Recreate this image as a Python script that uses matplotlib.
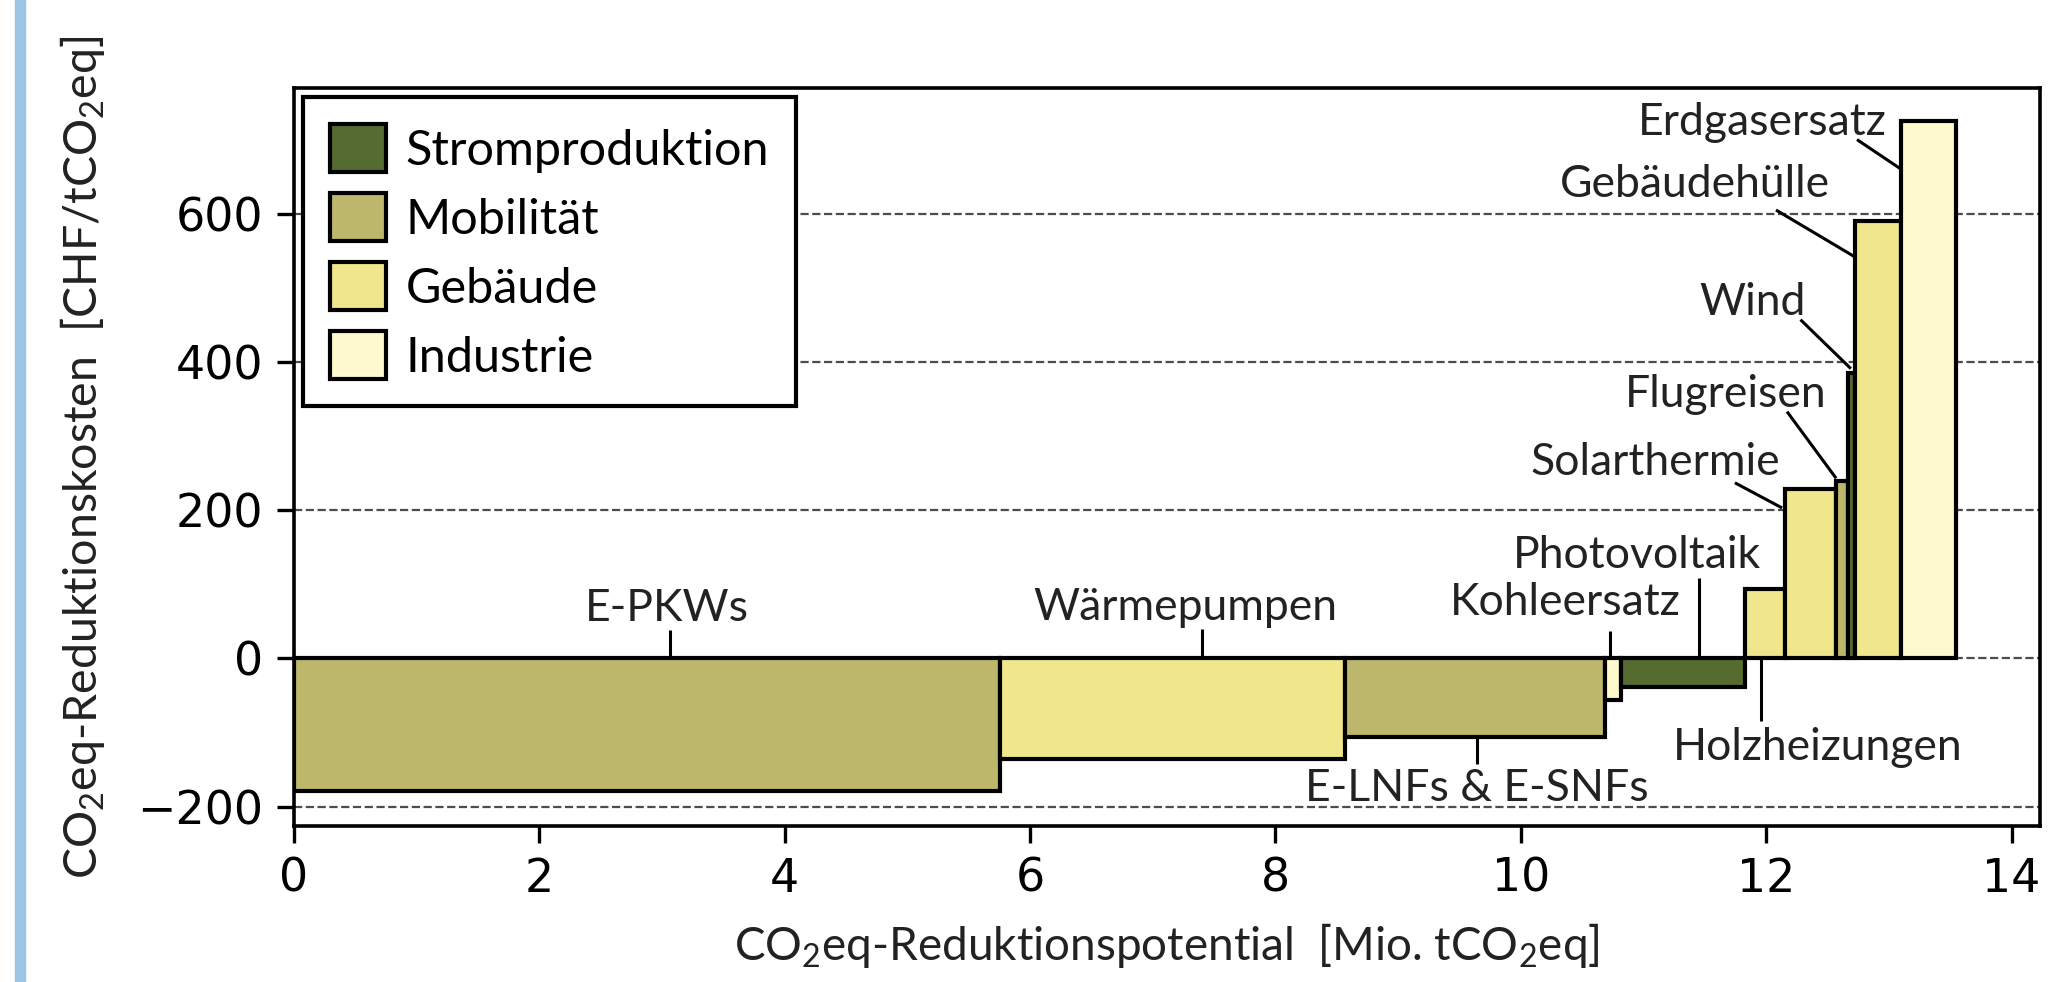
import matplotlib
matplotlib.use("Agg")
import matplotlib.pyplot as plt
import numpy as np
from matplotlib.patches import Patch, Rectangle

# data
labels = ["E-PKWs", "Wärmepumpen", "E-LNFs & E-SNFs", "Kohleersatz", "Photovoltaik",
          "Holzheizungen", "Solarthermie", "Flugreisen", "Wind", "Gebäudehülle", "Erdgasersatz"]
potential = [5.76, 2.81, 2.12, 0.13, 1.01, 0.32, 0.42, 0.10, 0.05, 0.38, 0.45]   # Mio. tCO2eq
cost = [-179, -135, -106, -56, -38, 94, 229, 240, 385, 590, 725]                    # CHF/tCO2eq
sector = ["Mobilität", "Gebäude", "Mobilität", "Industrie", "Stromproduktion",
          "Gebäude", "Gebäude", "Mobilität", "Stromproduktion", "Gebäude", "Industrie"]
sectors = ["Stromproduktion", "Mobilität", "Gebäude", "Industrie"]

colors = {"Stromproduktion": "darkolivegreen", "Mobilität": "darkkhaki",
          "Gebäude": "khaki", "Industrie": "lemonchiffon"}

# label placement: text x, text baseline y, ha, leader line (x0, y0, x1, y1)
label_pos = {
    "E-PKWs": (3.04, 50, "center", (3.07, 0, 3.07, 38)),
    "Wärmepumpen": (7.27, 52, "center", (7.40, 0, 7.40, 40)),
    "E-LNFs & E-SNFs": (9.64, -193, "center", (9.64, -106, 9.64, -143)),
    "Kohleersatz": (11.30, 59, "right", (10.73, 0, 10.73, 37)),
    "Photovoltaik": (11.96, 122, "right", (11.45, 0, 11.45, 109)),
    "Holzheizungen": (12.42, -137, "center", (11.96, 0, 11.96, -85)),
    "Solarthermie": (12.11, 248, "right", (11.745, 237, 12.13, 203)),
    "Flugreisen": (12.49, 339, "right", (12.17, 333, 12.57, 243)),
    "Wind": (12.32, 464, "right", (12.28, 457, 12.69, 391)),
    "Gebäudehülle": (12.52, 623, "right", (12.08, 605, 12.72, 542)),
    "Erdgasersatz": (12.98, 706, "right", (12.74, 700, 13.10, 660)),
}

plt.rcParams["mathtext.fontset"] = "custom"
plt.rcParams["mathtext.rm"] = "Lato"
plt.rcParams["mathtext.it"] = "Lato:italic"
plt.rcParams["mathtext.bf"] = "Lato:bold"
plt.rcParams["axes.linewidth"] = 2.6

txt_font = "Lato"
fs = 32

fig = plt.figure(figsize=(20.48, 9.82), dpi=100)
fig.patches.append(Rectangle((0.0073, 0), 0.005, 1, transform=fig.transFigure,
                             color="#9dc3e6", zorder=0))
ax = fig.add_axes([0.1434, 0.1589, 0.8526, 0.7518])

left = np.concatenate([[0], np.cumsum(potential)[:-1]])
ax.bar(left, cost, width=potential, align="edge",
       color=[colors[s] for s in sector], edgecolor="black", linewidth=3, zorder=3)

for name in labels:
    tx, ty, ha, (x0, y0, x1, y1) = label_pos[name]
    ax.plot([x0, x1], [y0, y1], color="black", lw=2.2, zorder=4, solid_capstyle="butt")
    ax.text(tx, ty, name, ha=ha, va="baseline", fontsize=fs, family=txt_font,
            color="#222222", zorder=5)

ax.set_xlim(0, 14.23)
ax.set_ylim(-226, 770)
ax.set_xticks([0, 2, 4, 6, 8, 10, 12, 14])
ax.set_yticks([-200, 0, 200, 400, 600])
ax.tick_params(labelsize=33, length=12, width=2.4, pad=10)
ax.set_axisbelow(True)
ax.yaxis.grid(True, linestyle="--", color="0.3", linewidth=1.6)

ax.set_xlabel("CO$_\\mathrm{2}$eq-Reduktionspotential  [Mio. tCO$_\\mathrm{2}$eq]",
              fontsize=33, family=txt_font, color="#222222", labelpad=14)
ax.set_ylabel("CO$_\\mathrm{2}$eq-Reduktionskosten  [CHF/tCO$_\\mathrm{2}$eq]",
              fontsize=33.5, family=txt_font, color="#222222", labelpad=22)

handles = [Patch(facecolor=colors[s], edgecolor="black", linewidth=3, label=s) for s in sectors]
leg = ax.legend(handles=handles, loc="upper left", fancybox=False, framealpha=1,
                edgecolor="black", prop={"family": txt_font, "size": 35},
                handlelength=1.15, handleheight=1.15, handletextpad=0.4,
                labelspacing=0.42, borderaxespad=0.2, borderpad=0.55)
leg.get_frame().set_linewidth(3)
leg.set_zorder(6)

fig.savefig("out.png", dpi=100)
